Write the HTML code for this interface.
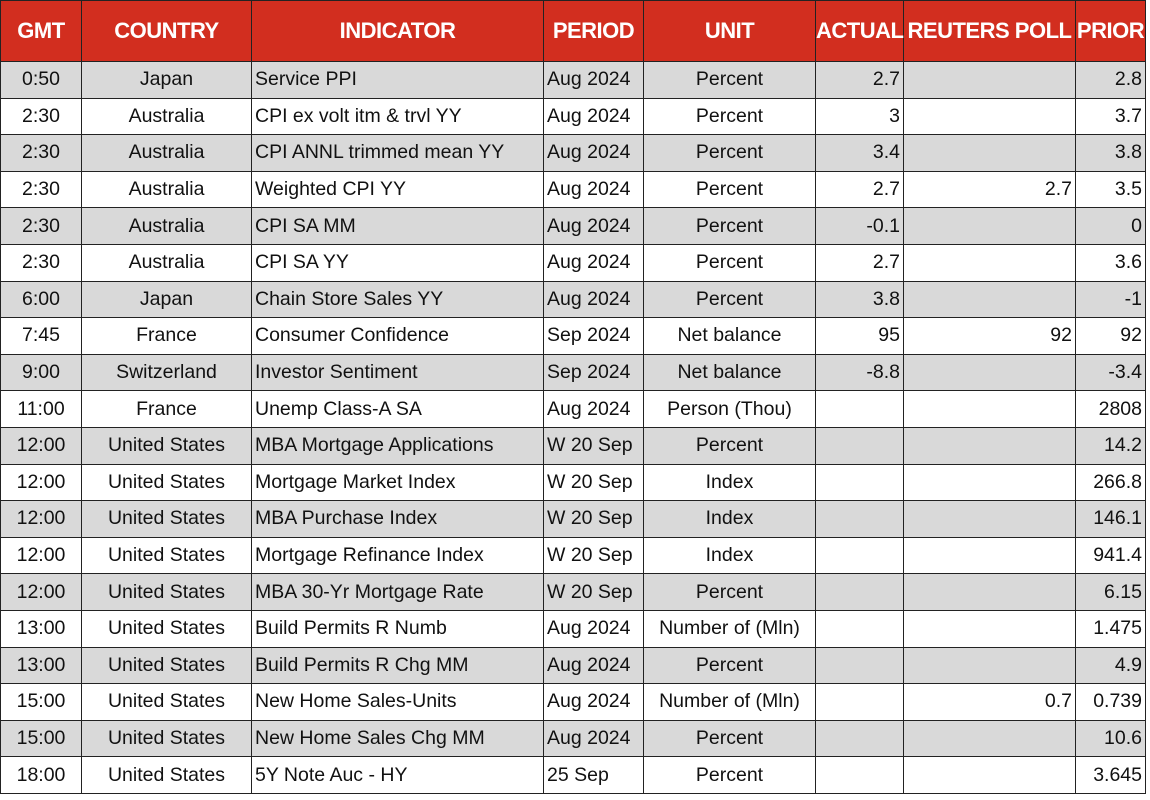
<!DOCTYPE html>
<html><head><meta charset="utf-8"><style>
body{margin:0;width:1150px;height:800px;background:#fff;overflow:hidden;font-family:"Liberation Sans",sans-serif;}
table{position:absolute;left:0;top:0;border-collapse:collapse;table-layout:fixed;width:1145px;}
th{background:#d22e1f;color:#fff;font-weight:bold;font-size:22px;height:60px;border:1px solid #222;padding:0;white-space:nowrap;letter-spacing:-0.5px;}
td{font-size:19.5px;color:#111;border:1px solid #222;height:35.6px;padding:0 3px;white-space:nowrap;overflow:hidden;}
tr.g td{background:#d9d9d9;}
.c{text-align:center}.r{text-align:right}.l{text-align:left}
</style></head><body>
<table>
<colgroup><col style="width:81px"><col style="width:170px"><col style="width:292px"><col style="width:100px"><col style="width:172px"><col style="width:88px"><col style="width:172px"><col style="width:70px"></colgroup>
<thead><tr>
<th>GMT</th><th>COUNTRY</th><th>INDICATOR</th><th>PERIOD</th><th>UNIT</th><th>ACTUAL</th><th>REUTERS POLL</th><th>PRIOR</th>
</tr></thead>
<tbody id="tb"></tbody></table>
<script>
const rows=[
["0:50","Japan","Service PPI","Aug 2024","Percent","2.7","","2.8"],
["2:30","Australia","CPI ex volt itm & trvl YY","Aug 2024","Percent","3","","3.7"],
["2:30","Australia","CPI ANNL trimmed mean YY","Aug 2024","Percent","3.4","","3.8"],
["2:30","Australia","Weighted CPI YY","Aug 2024","Percent","2.7","2.7","3.5"],
["2:30","Australia","CPI SA MM","Aug 2024","Percent","-0.1","","0"],
["2:30","Australia","CPI SA YY","Aug 2024","Percent","2.7","","3.6"],
["6:00","Japan","Chain Store Sales YY","Aug 2024","Percent","3.8","","-1"],
["7:45","France","Consumer Confidence","Sep 2024","Net balance","95","92","92"],
["9:00","Switzerland","Investor Sentiment","Sep 2024","Net balance","-8.8","","-3.4"],
["11:00","France","Unemp Class-A SA","Aug 2024","Person (Thou)","","","2808"],
["12:00","United States","MBA Mortgage Applications","W 20 Sep","Percent","","","14.2"],
["12:00","United States","Mortgage Market Index","W 20 Sep","Index","","","266.8"],
["12:00","United States","MBA Purchase Index","W 20 Sep","Index","","","146.1"],
["12:00","United States","Mortgage Refinance Index","W 20 Sep","Index","","","941.4"],
["12:00","United States","MBA 30-Yr Mortgage Rate","W 20 Sep","Percent","","","6.15"],
["13:00","United States","Build Permits R Numb","Aug 2024","Number of (Mln)","","","1.475"],
["13:00","United States","Build Permits R Chg MM","Aug 2024","Percent","","","4.9"],
["15:00","United States","New Home Sales-Units","Aug 2024","Number of (Mln)","","0.7","0.739"],
["15:00","United States","New Home Sales Chg MM","Aug 2024","Percent","","","10.6"],
["18:00","United States","5Y Note Auc - HY","25 Sep","Percent","","","3.645"]];
const al=["c","c","l","l","c","r","r","r"];
const nm=["gmt","country","indicator","period","unit","actual","reuters-poll","prior"];
const tb=document.getElementById("tb");
rows.forEach((r,i)=>{const tr=document.createElement("tr");if(i%2==0)tr.className="g";


r.forEach((v,j)=>{const td=document.createElement("td");td.className=al[j];td.textContent=v;


tr.appendChild(td);});tb.appendChild(tr);});
</script>
</body></html>
